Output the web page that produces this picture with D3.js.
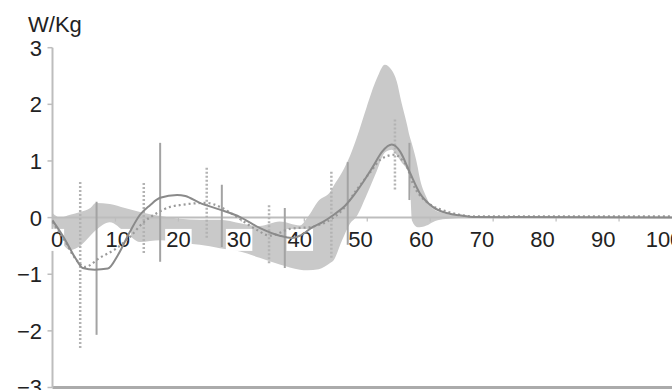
<!DOCTYPE html>
<html>
<head>
<meta charset="utf-8">
<script src="https://cdn.jsdelivr.net/npm/d3@7"></script>
<style>
  body { margin: 0; background: #fff; }
  svg { display: block; font-family: "Liberation Sans", Arial, sans-serif; }
</style>
</head>
<body>
<svg id="chart" width="672" height="390"></svg>
<script>
// gray band (shaded range)
const bandX  = [0, 1.2, 2.8, 4.4, 6, 6.9, 9.1, 11.5, 13.9, 17.1, 20.2, 23.4, 26.6, 29.8, 32.9, 36.1, 39.3, 40.5, 42.3, 44.1, 44.6, 46, 47.3, 48.3, 49.9, 51.5, 52.8, 53.9, 54.7, 55.4, 56.3, 56.7, 57.1, 58, 58.3, 59.4, 60.4, 62, 64, 66, 100];
const bandLo = [-0.13, -0.39, -0.57, -0.5, -0.32, -0.22, -0.08, -0.25, -0.43, -0.4, -0.45, -0.48, -0.54, -0.6, -0.71, -0.83, -0.92, -0.93, -0.91, -0.8, -0.76, -0.4, -0.1, 0.02, 0.4, 0.82, 1.15, 1.2, 1.1, 0.98, 0.85, 0.75, -0.05, -0.17, -0.17, -0.14, -0.08, -0.03, -0.01, 0, 0];
const bandHi = [0.08, 0.0, 0.05, 0.1, 0.17, 0.26, 0.24, 0.17, 0.1, 0.03, -0.02, -0.04, -0.04, -0.1, -0.15, -0.07, -0.14, 0.0, 0.3, 0.45, 0.55, 0.8, 1.1, 1.4, 1.95, 2.45, 2.7, 2.6, 2.4, 2.05, 1.65, 1.45, 1.3, 0.9, 0.72, 0.36, 0.16, 0.08, 0.04, 0.02, 0.01];

// solid mean curve
const solidX = [0, 2, 3.6, 4.8, 6.7, 8.8, 10.4, 12.3, 13.9, 15.5, 17.1, 19.8, 21.1, 23.4, 26.6, 29.8, 32.9, 36.1, 38, 39.3, 41.3, 42.9, 44.8, 46.4, 47.7, 49.3, 50.9, 52.4, 53.9, 55.2, 56.75, 58.3, 60.4, 62.6, 64.7, 67.1, 100];
const solidY = [-0.05, -0.39, -0.71, -0.89, -0.92, -0.9, -0.66, -0.25, 0.05, 0.22, 0.35, 0.4, 0.38, 0.26, 0.14, 0.01, -0.18, -0.32, -0.36, -0.32, -0.17, -0.08, 0.06, 0.2, 0.37, 0.62, 0.9, 1.17, 1.29, 1.17, 0.8, 0.44, 0.19, 0.08, 0.04, 0.01, 0];

// dotted mean curve
const dotX = [0, 2, 3.6, 5.2, 7.5, 10.2, 12.3, 14.4, 16.6, 18.7, 20.2, 24.5, 26.6, 29.3, 32.5, 34.5, 37.7, 41.3, 44.5, 46.1, 48.3, 50.4, 52.4, 54.4, 55.5, 56.3, 57.2, 58.3, 59.9, 62.3, 64.7, 67.1, 100];
const dotY = [-0.08, -0.42, -0.72, -0.87, -0.71, -0.54, -0.34, -0.09, 0.08, 0.19, 0.22, 0.26, 0.19, 0.01, -0.22, -0.32, -0.2, -0.16, -0.01, 0.14, 0.49, 0.79, 1.05, 1.11, 1.02, 0.9, 0.61, 0.4, 0.24, 0.12, 0.05, 0.02, 0.02];

// error bars
const solidBarX  = [7, 17.1, 26.9, 36.9, 46.9, 56.7];
const solidBarLo = [-2.07, -0.78, -0.52, -0.89, -0.48, 0.31];
const solidBarHi = [0.28, 1.32, 0.58, 0.17, 0.98, 1.32];
const dotBarX  = [4.4, 14.5, 24.5, 34.4, 44.3, 54.4];
const dotBarLo = [-2.34, -0.66, -0.39, -0.84, -0.71, 0.49];
const dotBarHi = [0.63, 0.61, 0.88, 0.22, 0.81, 1.73];

const xTicks = [0, 10, 20, 30, 40, 50, 60, 70, 80, 90, 100];
const yTicks = [3, 2, 1, 0, -1, -2, -3];
const yLabels = ["3", "2", "1", "0", "\u22121", "\u22122", "\u22123"];

const svg = d3.select("#chart");

const x = d3.scaleLinear().domain([0, 100]).range([52.5, 682]);
const y = d3.scaleLinear().domain([-3, 3]).range([387.5, 47.7]);
// tick labels sit on a slightly narrower spacing than the ticks
const xLab = d3.scaleLinear().domain([0, 100]).range([57, 664]);

const band = bandX.map((d, i) => ({x: d, lo: bandLo[i], hi: bandHi[i]}));

svg.append("path")
  .datum(band)
  .attr("fill", "#c9c9c9")
  .attr("d", d3.area()
    .x(d => x(d.x))
    .y0(d => y(d.lo))
    .y1(d => y(d.hi))
    .curve(d3.curveMonotoneX));

// axes
svg.append("line")
  .attr("x1", x(0)).attr("x2", 672)
  .attr("y1", y(0)).attr("y2", y(0))
  .attr("stroke", "#bdbdbd").attr("stroke-width", 2);

svg.append("line")
  .attr("x1", x(0)).attr("x2", 672)
  .attr("y1", y(-3)).attr("y2", y(-3))
  .attr("stroke", "#ababab").attr("stroke-width", 3);

svg.selectAll(".xtick")
  .data(xTicks.slice(1))
  .enter().append("line")
  .attr("x1", d => x(d)).attr("x2", d => x(d))
  .attr("y1", y(0)).attr("y2", y(0) + 4)
  .attr("stroke", "#bdbdbd").attr("stroke-width", 1.2);

svg.append("line")
  .attr("x1", x(0)).attr("x2", x(0))
  .attr("y1", y(3)).attr("y2", y(-3))
  .attr("stroke", "#bdbdbd").attr("stroke-width", 2);

svg.selectAll(".ytick")
  .data(yTicks)
  .enter().append("line")
  .attr("x1", x(0) - 5).attr("x2", x(0))
  .attr("y1", d => y(d)).attr("y2", d => y(d))
  .attr("stroke", "#bdbdbd").attr("stroke-width", 1.5);

svg.selectAll(".ylab")
  .data(yTicks)
  .enter().append("text")
  .attr("x", 42)
  .attr("y", d => y(d))
  .attr("dy", "0.36em")
  .attr("text-anchor", "end")
  .attr("font-size", 22)
  .attr("fill", "#222")
  .text((d, i) => yLabels[i]);

svg.append("text")
  .attr("x", 28).attr("y", 32)
  .attr("font-size", 22)
  .attr("fill", "#222")
  .text("W/Kg");

// x labels with white boxes behind them
const xl = svg.selectAll(".xlab")
  .data(xTicks)
  .enter().append("g");

xl.append("text")
  .attr("x", d => xLab(d))
  .attr("y", 239)
  .attr("dy", "0.36em")
  .attr("text-anchor", "middle")
  .attr("font-size", 22)
  .attr("fill", "#222")
  .text(d => d);

xl.each(function() {
  const g = d3.select(this);
  const b = g.select("text").node().getBBox();
  g.insert("rect", "text")
    .attr("x", b.x - 1).attr("y", b.y + 2)
    .attr("width", b.width + 2).attr("height", b.height - 3)
    .attr("fill", "#fff");
});

// error bars
svg.selectAll(".dbar")
  .data(dotBarX)
  .enter().append("line")
  .attr("x1", d => x(d)).attr("x2", d => x(d))
  .attr("y1", (d, i) => y(dotBarHi[i]))
  .attr("y2", (d, i) => y(dotBarLo[i]))
  .attr("stroke", "#b3b3b3")
  .attr("stroke-width", 2.5)
  .attr("stroke-dasharray", "2,2");

svg.selectAll(".sbar")
  .data(solidBarX)
  .enter().append("line")
  .attr("x1", d => x(d)).attr("x2", d => x(d))
  .attr("y1", (d, i) => y(solidBarHi[i]))
  .attr("y2", (d, i) => y(solidBarLo[i]))
  .attr("stroke", "#a3a3a3")
  .attr("stroke-width", 2);

// mean curves
const line = d3.line()
  .x(d => x(d[0]))
  .y(d => y(d[1]))
  .curve(d3.curveMonotoneX);

svg.append("path")
  .datum(dotX.map((d, i) => [d, dotY[i]]))
  .attr("fill", "none")
  .attr("stroke", "#9a9a9a")
  .attr("stroke-width", 2.2)
  .attr("stroke-dasharray", "2,3")
  .attr("d", line);

svg.append("path")
  .datum(solidX.map((d, i) => [d, solidY[i]]))
  .attr("fill", "none")
  .attr("stroke", "#8a8a8a")
  .attr("stroke-width", 2)
  .attr("d", line);
</script>
</body>
</html>
